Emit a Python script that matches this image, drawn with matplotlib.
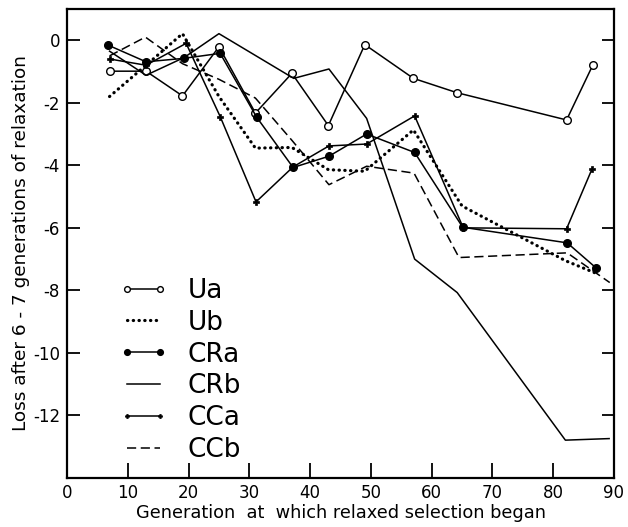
import numpy as np
import matplotlib
matplotlib.use("Agg")
import matplotlib.pyplot as plt

plt.rcParams['font.family'] = ['DejaVu Sans']
plt.rcParams['axes.unicode_minus'] = False

# generation at which relaxed selection began, loss after 6-7 generations
ua_x = [7, 13, 19, 25, 31, 37, 43, 49, 57, 64.2, 82.2, 86.5]
ua_y = [-0.99, -0.99, -1.78, -0.21, -2.33, -1.06, -2.73, -0.14, -1.22, -1.68, -2.55, -0.80]

ub_x = [7, 13, 19, 25, 31, 37, 43, 49, 57, 65, 82, 87]
ub_y = [-1.8, -0.8, 0.21, -1.8, -3.45, -3.43, -4.14, -4.19, -2.87, -5.3, -7.05, -7.45]

cra_x = [6.8, 13, 19.2, 25.2, 31.2, 37.2, 43.1, 49.3, 57.2, 65.1, 82.3, 87.1]
cra_y = [-0.16, -0.69, -0.58, -0.42, -2.46, -4.07, -3.71, -3.0, -3.59, -5.98, -6.48, -7.29]

crb_x = [7, 13, 19.3, 25, 37.3, 43.1, 49.3, 57.2, 64.2, 82, 89.2]
crb_y = [-0.35, -1.12, -0.55, 0.21, -1.22, -0.92, -2.5, -7.0, -8.07, -12.79, -12.74]

cca_x = [7, 13, 19.6, 25.2, 31.1, 37.2, 43.1, 49.3, 57.2, 65.2, 82.2, 86.4]
cca_y = [-0.6, -0.8, -0.1, -2.44, -5.17, -4.05, -3.38, -3.32, -2.42, -6.0, -6.03, -4.11]

ccb_x = [7, 12.9, 19, 25, 31, 37, 43.1, 49.3, 57.1, 64.5, 82.3, 89.3]
ccb_y = [-0.5, 0.1, -0.75, -1.25, -1.85, -3.2, -4.62, -4.03, -4.25, -6.95, -6.8, -7.75]

fig = plt.figure(figsize=(6.28, 5.27), dpi=100)
ax = fig.add_axes([0.1067, 0.093, 0.871, 0.89])

k = dict(color='black', lw=1.1)
ax.plot(ua_x, ua_y, marker='o', ms=5.5, mfc='white', mec='black', mew=1.0, label='Ua', **k)
ax.plot(ub_x, ub_y, color='black', lw=2.3, linestyle=(0, (0.1, 1.7)), dash_capstyle='round', label='Ub')
ax.plot(cra_x, cra_y, marker='o', ms=5.5, mfc='black', mec='black', label='CRa', **k)
ax.plot(crb_x, crb_y, label='CRb', **k)
ax.plot(cca_x, cca_y, marker='P', ms=4, mfc='black', mec='black', mew=0.5, label='CCa', **k)
ax.plot(ccb_x, ccb_y, linestyle=(0, (6, 3)), label='CCb', **k)

ax.set_xlim(0, 90)
ax.set_ylim(-14, 1)
ax.set_xticks(np.arange(0, 91, 10))
ax.set_yticks(np.arange(-12, 1, 2))
ax.tick_params(axis='x', direction='in', length=11, width=1.3, labelsize=12, pad=4)
ax.tick_params(axis='y', direction='in', length=9, width=1.3, labelsize=12, right=True, pad=5)
for s in ax.spines.values():
    s.set_linewidth(1.6)

ax.set_xlabel('Generation  at  which relaxed selection began', fontsize=12.8, labelpad=2)
ax.set_ylabel('Loss after 6 - 7 generations of relaxation', fontsize=13.3, labelpad=2)

ax.legend(loc='upper left', bbox_to_anchor=(0.095, 0.4266), frameon=False, fontsize=19,
          handlelength=1.85, handletextpad=0.76, labelspacing=0.22, borderpad=0,
          borderaxespad=0, numpoints=2, markerscale=0.75)

fig.savefig('out.png', dpi=100)
